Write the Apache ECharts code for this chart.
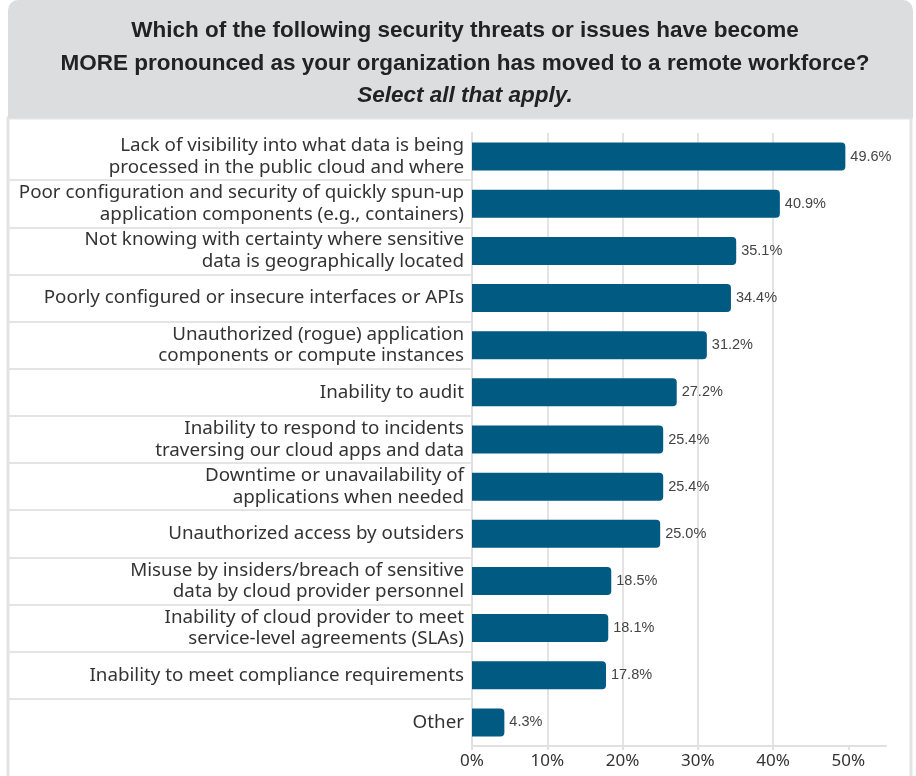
<!DOCTYPE html>
<html>
<head>
<meta charset="utf-8">
<script src="https://cdn.jsdelivr.net/npm/echarts@6/dist/echarts.min.js"></script>
<style>
  html, body { margin: 0; padding: 0; background: #ffffff; }
  #chart { width: 916px; height: 776px; }
</style>
</head>
<body>
<div id="chart"></div>
<script>
// Survey responses: security threats that became more pronounced with remote work
const categories = [
  'Lack of visibility into what data is being\nprocessed in the public cloud and where',
  'Poor configuration and security of quickly spun-up\napplication components (e.g., containers)',
  'Not knowing with certainty where sensitive\ndata is geographically located',
  'Poorly configured or insecure interfaces or APIs',
  'Unauthorized (rogue) application\ncomponents or compute instances',
  'Inability to audit',
  'Inability to respond to incidents\ntraversing our cloud apps and data',
  'Downtime or unavailability of\napplications when needed',
  'Unauthorized access by outsiders',
  'Misuse by insiders/breach of sensitive\ndata by cloud provider personnel',
  'Inability of cloud provider to meet\nservice-level agreements (SLAs)',
  'Inability to meet compliance requirements',
  'Other'
];
const values = [49.6, 40.9, 35.1, 34.4, 31.2, 27.2, 25.4, 25.4, 25.0, 18.5, 18.1, 17.8, 4.3];
const xTicks = [0, 10, 20, 30, 40, 50];

const titleLines = [
  'Which of the following security threats or issues have become',
  'MORE pronounced as your organization has moved to a remote workforce?',
  'Select all that apply.'
];

const chart = echarts.init(document.getElementById('chart'), null, { renderer: 'canvas' });

// row separators: hide the outermost boundaries, keep the inner ones
const sepColors = [];
for (let i = 0; i <= categories.length; i++) {
  sepColors.push(i === 0 || i === categories.length ? 'rgba(0,0,0,0)' : '#e4e4e4');
}

const labelFont = '"Noto Sans", sans-serif';

chart.setOption({
  animation: false,
  backgroundColor: '#ffffff',
  graphic: [
    {
      type: 'rect', z: -10,
      shape: { x: 8, y: 118, width: 903, height: 700 },
      style: { fill: '#ffffff', stroke: '#e3e3e3', lineWidth: 3 }
    },
    {
      type: 'rect', z: -9,
      shape: { x: 8, y: 0, width: 905, height: 118, r: [10, 10, 0, 0] },
      style: { fill: '#dcdddf' }
    }
  ],
  title: {
    left: 460,
    top: 10,
    textAlign: 'center',
    text: '{b|' + titleLines[0] + '}\n{b|' + titleLines[1] + '}\n{i|' + titleLines[2] + '}',
    textStyle: {
      rich: {
        b: { fontFamily: '"Liberation Sans Narrow", sans-serif', fontWeight: 'bold', fontSize: 22.5, color: '#222222', lineHeight: 32.5 },
        i: { fontFamily: '"Liberation Sans Narrow", sans-serif', fontWeight: 'bold', fontStyle: 'italic', fontSize: 22.5, color: '#222222', lineHeight: 32.5 }
      }
    }
  },
  grid: [
    { left: 472, right: 30, top: 133, bottom: 30, containLabel: false },
    { left: 8, right: 444, top: 133, bottom: 30, containLabel: false }
  ],
  xAxis: [
    {
      gridIndex: 0,
      type: 'value',
      min: 0,
      max: 55,
      interval: 10,
      axisLine: { show: true, lineStyle: { color: '#e0e0e0', width: 2 } },
      axisTick: { show: true, length: 4, customValues: xTicks, lineStyle: { color: '#e0e0e0', width: 2 } },
      splitLine: { show: true, showMaxLine: false, lineStyle: { color: '#e4e4e4', width: 2 } },
      axisLabel: {
        customValues: xTicks,
        formatter: v => v + '%',
        fontFamily: labelFont,
        fontSize: 17,
        color: '#333333',
        margin: 7
      }
    },
    {
      gridIndex: 1,
      type: 'value',
      min: 0,
      max: 1,
      show: false
    }
  ],
  yAxis: [
    {
      gridIndex: 0,
      type: 'category',
      data: categories,
      inverse: true,
      axisLine: { show: true, lineStyle: { color: '#e0e0e0', width: 2 } },
      axisTick: { show: false },
      splitLine: { show: false },
      axisLabel: {
        fontFamily: labelFont,
        fontSize: 18.8,
        lineHeight: 21.5,
        color: '#333333',
        margin: 8,
        align: 'right'
      }
    },
    {
      gridIndex: 1,
      type: 'category',
      data: categories,
      inverse: true,
      axisLine: { show: false },
      axisTick: { show: false },
      axisLabel: { show: false },
      splitLine: { show: true, lineStyle: { color: sepColors, width: 2 } }
    }
  ],
  series: [
    {
      type: 'bar',
      xAxisIndex: 0,
      yAxisIndex: 0,
      data: values,
      barWidth: 28,
      itemStyle: { color: '#005a82', borderRadius: [0, 4, 4, 0] },
      label: {
        show: true,
        position: 'right',
        distance: 5,
        formatter: p => p.value.toFixed(1) + '%',
        fontFamily: '"Liberation Sans Narrow", sans-serif',
        fontSize: 14.5,
        color: '#444444'
      }
    }
  ]
});
</script>
</body>
</html>
